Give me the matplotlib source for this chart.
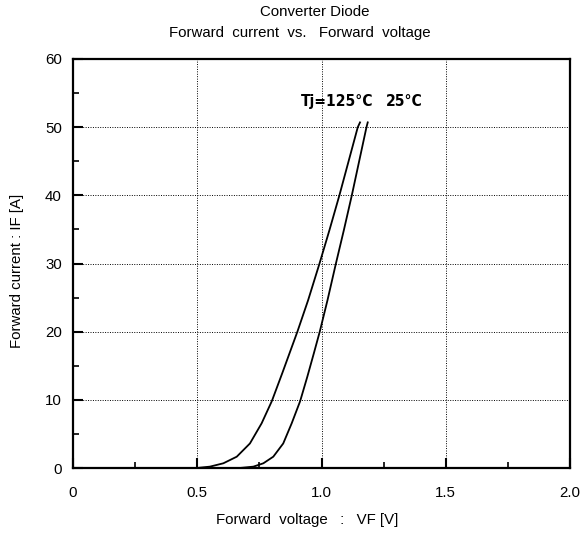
import matplotlib
matplotlib.use("Agg")
import matplotlib.pyplot as plt
from matplotlib.ticker import MultipleLocator

plt.rcParams['font.family'] = ['Liberation Sans', 'DejaVu Sans']

# Data
vf_125 = [0.50, 0.511, 0.551, 0.605, 0.659, 0.712, 0.759, 0.800, 0.842, 0.876,
          0.903, 0.946, 0.992, 1.032, 1.072, 1.146, 1.155]
if_125 = [0.0, 0.05, 0.2, 0.69, 1.66, 3.6, 6.55, 9.8, 13.9, 17.3,
          20.0, 24.6, 30.0, 34.9, 40.0, 50.0, 50.7]
vf_25 = [0.67, 0.685, 0.726, 0.766, 0.806, 0.846, 0.880, 0.914, 0.943, 0.969,
         0.993, 1.024, 1.058, 1.090, 1.122, 1.181, 1.186]
if_25 = [0.0, 0.05, 0.2, 0.69, 1.66, 3.6, 6.55, 9.8, 13.4, 16.8,
         20.0, 24.6, 30.0, 34.9, 40.0, 50.0, 50.7]

x_ticks = [0, 0.5, 1.0, 1.5, 2.0]
x_labels = ['0', '0.5', '1.0', '1.5', '2.0']
y_ticks = [0, 10, 20, 30, 40, 50, 60]

fig = plt.figure(figsize=(5.82, 5.35), dpi=100)
ax = fig.add_axes([73/582, 1-468/535, (570-73)/582, (468-59)/535])

ax.plot(vf_125, if_125, color='black', lw=1.3)
ax.plot(vf_25, if_25, color='black', lw=1.3)

ax.set_xlim(0, 2.0)
ax.set_ylim(0, 60)
ax.set_xticks(x_ticks)
ax.set_xticklabels(x_labels)
ax.set_yticks(y_ticks)
ax.xaxis.set_minor_locator(MultipleLocator(0.25))
ax.yaxis.set_minor_locator(MultipleLocator(5))
ax.tick_params(which='major', direction='in', length=7, width=1.5, labelsize=10.8)
ax.tick_params(which='minor', direction='in', length=4, width=1.2)
ax.tick_params(axis='x', pad=13)
ax.tick_params(axis='y', pad=8)
for s in ax.spines.values():
    s.set_linewidth(1.6)
ax.grid(True, which='major', linestyle=(0, (1, 1.5)), color='black', lw=0.7)

ax.text((307-73)/497, (468-520)/409, 'Forward  voltage   :   VF [V]', fontsize=10.8,
        ha='center', va='center', transform=ax.transAxes)
ax.text((17-73)/497, (468-271)/409, 'Forward current : IF [A]', fontsize=10.8,
        ha='center', va='center', rotation=90, transform=ax.transAxes)

fig.text(315/582, 1-12/535, 'Converter Diode', ha='center', va='center', fontsize=10.8)
fig.text(300/582, 1-33/535, 'Forward  current  vs.   Forward  voltage', ha='center', va='center', fontsize=10.8)

ax.text(0.916, 53.7, 'Tj=125°C', fontsize=11.2, fontweight='bold', fontstretch='condensed',
        va='center', ha='left', family='DejaVu Sans')
ax.text(1.26, 53.7, '25°C', fontsize=11.2, fontweight='bold', fontstretch='condensed',
        va='center', ha='left', family='DejaVu Sans')

fig.savefig('out.png', dpi=100)
